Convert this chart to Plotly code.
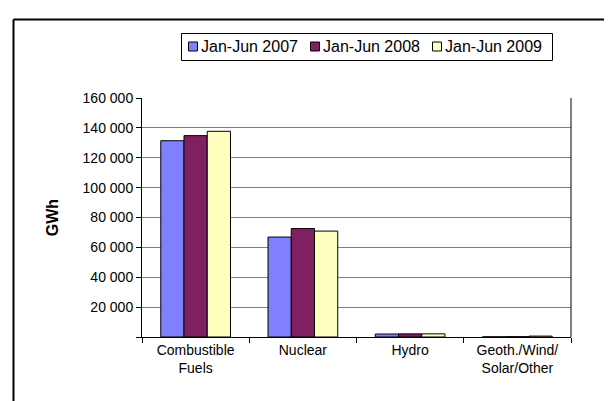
import plotly.graph_objects as go

# Electricity production by source, first half of each year (GWh)
categories = ["Combustible<br>Fuels", "Nuclear", "Hydro", "Geoth./Wind/<br>Solar/Other"]
series_names = ["Jan-Jun 2007", "Jan-Jun 2008", "Jan-Jun 2009"]
values_2007 = [131400, 66900, 2000, 100]
values_2008 = [134800, 72600, 2100, 200]
values_2009 = [137700, 70900, 2100, 600]
series_colors = ["#8080FF", "#802060", "#FFFFC0"]

y_ticks = [0, 20000, 40000, 60000, 80000, 100000, 120000, 140000, 160000]
y_tick_text = [""] + [f"{v:,}".replace(",", " ") for v in y_ticks[1:]]

W, H = 612, 401
M_L, M_R, M_T, M_B = 134, 49, 90, 72
PLOT_W = W - M_L - M_R
PLOT_H = H - M_T - M_B


def px_x(px):
    """pixel column -> paper x"""
    return (px - M_L) / PLOT_W


def px_y(py):
    """pixel row -> paper y"""
    return (H - M_B - py) / PLOT_H


fig = go.Figure()

for name, vals, color in zip(series_names, [values_2007, values_2008, values_2009], series_colors):
    fig.add_trace(go.Bar(
        x=categories,
        y=vals,
        name=name,
        marker=dict(color=color, line=dict(color="#000000", width=1)),
        showlegend=False,
    ))

shapes = [
    # right edge of the plot area
    dict(type="line", xref="paper", yref="paper", x0=1, x1=1, y0=0, y1=1,
         line=dict(color="#000000", width=1)),
    # outer frame (left and top)
    dict(type="line", xref="paper", yref="paper", x0=px_x(5.5), x1=px_x(5.5), y0=px_y(H + 5), y1=px_y(11.5),
         line=dict(color="#000000", width=2)),
    dict(type="line", xref="paper", yref="paper", x0=px_x(5.5), x1=px_x(W + 5), y0=px_y(11.5), y1=px_y(11.5),
         line=dict(color="#000000", width=2)),
    # legend box
    dict(type="rect", xref="paper", yref="paper", x0=px_x(173.5), x1=px_x(544.5), y0=px_y(25.5), y1=px_y(52.5),
         line=dict(color="#000000", width=1), fillcolor="white"),
]

annotations = []
# hand-built legend, Excel style: small square swatch right next to the label
for i, (name, color) in enumerate(zip(series_names, series_colors)):
    sx = 180.5 + 122 * i
    shapes.append(dict(type="rect", xref="paper", yref="paper",
                       x0=px_x(sx), x1=px_x(sx + 9), y0=px_y(34), y1=px_y(43),
                       line=dict(color="#000000", width=1), fillcolor=color))
    annotations.append(dict(xref="paper", yref="paper", x=px_x(sx + 10), y=px_y(38.5),
                            xanchor="left", yanchor="middle", showarrow=False,
                            text=name, font=dict(size=16, color="#000000")))

fig.update_layout(
    width=W,
    height=H,
    barmode="group",
    bargap=0.35,
    bargroupgap=0,
    paper_bgcolor="white",
    plot_bgcolor="white",
    font=dict(family="Liberation Sans, Arial, sans-serif", size=14, color="#000000"),
    margin=dict(l=M_L, r=M_R, t=M_T, b=M_B),
    showlegend=False,
    xaxis=dict(
        showline=True,
        linecolor="#000000",
        linewidth=1,
        ticks="outside",
        tickson="boundaries",
        ticklen=5,
        tickcolor="#000000",
        showgrid=False,
    ),
    yaxis=dict(
        range=[0, 160000],
        tickvals=y_ticks,
        ticktext=y_tick_text,
        showline=True,
        linecolor="#000000",
        linewidth=1,
        ticks="outside",
        ticklen=5,
        tickcolor="#000000",
        showgrid=True,
        gridcolor="#808080",
        gridwidth=1,
        zeroline=False,
        title=dict(text="<b>GWh</b>", font=dict(size=16), standoff=19),
    ),
    shapes=shapes,
    annotations=annotations,
)

fig.write_html("out.html")
